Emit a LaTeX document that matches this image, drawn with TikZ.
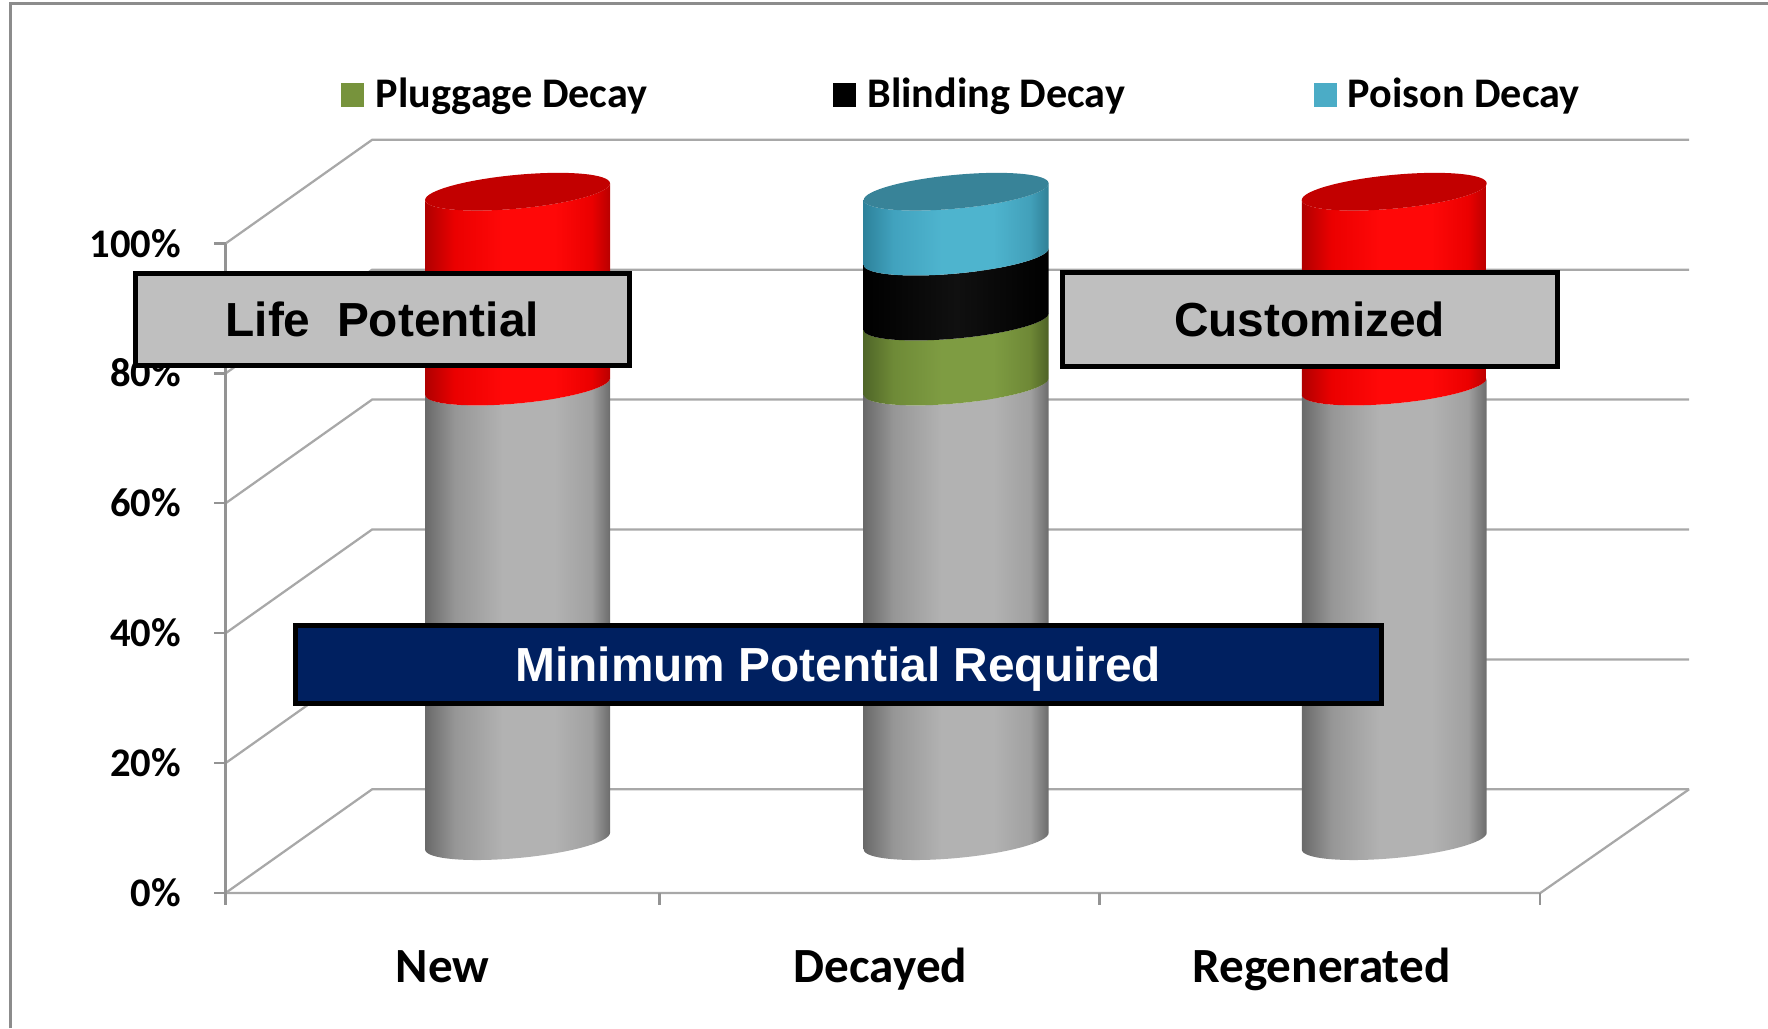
\documentclass[tikz,border=0pt]{standalone}
\usepackage{fontspec}
\setmainfont{Carlito}
\newfontfamily\arialfont{Liberation Sans}
\newfontfamily\califont{Carlito}
\definecolor{gridc}{RGB}{168,168,168}
\definecolor{framec}{RGB}{140,140,140}
\definecolor{boxgray}{RGB}{191,191,191}
\definecolor{navy}{RGB}{0,32,96}
\definecolor{leggreen}{RGB}{119,147,60}
\definecolor{legcyan}{RGB}{75,172,198}
% gray
\definecolor{gA}{RGB}{105,105,105}
\definecolor{gB}{RGB}{150,150,150}
\definecolor{gC}{RGB}{178,178,178}
\definecolor{gD}{RGB}{160,160,160}
\definecolor{gE}{RGB}{108,108,108}
% red
\definecolor{rA}{RGB}{175,0,0}
\definecolor{rB}{RGB}{235,0,0}
\definecolor{rC}{RGB}{255,8,8}
\definecolor{rD}{RGB}{235,0,0}
\definecolor{rE}{RGB}{185,0,0}
\definecolor{rTop}{RGB}{194,0,0}
% cyan
\definecolor{cA}{RGB}{45,130,155}
\definecolor{cB}{RGB}{65,162,190}
\definecolor{cC}{RGB}{78,180,206}
\definecolor{cD}{RGB}{66,160,186}
\definecolor{cE}{RGB}{48,128,150}
\definecolor{cTop}{RGB}{56,131,152}
% green
\definecolor{nA}{RGB}{80,102,40}
\definecolor{nB}{RGB}{110,138,55}
\definecolor{nC}{RGB}{126,156,66}
\definecolor{nD}{RGB}{110,136,54}
\definecolor{nE}{RGB}{78,98,38}
% black
\definecolor{kA}{RGB}{0,0,0}
\definecolor{kC}{RGB}{16,16,16}
\pgfdeclarehorizontalshading{shgray}{100bp}{color(0bp)=(gA); color(25bp)=(gA); color(33bp)=(gB); color(46bp)=(gC); color(60bp)=(gC); color(70bp)=(gD); color(75bp)=(gE); color(100bp)=(gE)}
\pgfdeclarehorizontalshading{shred}{100bp}{color(0bp)=(rA); color(25bp)=(rA); color(33bp)=(rB); color(46bp)=(rC); color(60bp)=(rC); color(70bp)=(rD); color(75bp)=(rE); color(100bp)=(rE)}
\pgfdeclarehorizontalshading{shcyan}{100bp}{color(0bp)=(cA); color(25bp)=(cA); color(33bp)=(cB); color(46bp)=(cC); color(60bp)=(cC); color(70bp)=(cD); color(75bp)=(cE); color(100bp)=(cE)}
\pgfdeclarehorizontalshading{shgreen}{100bp}{color(0bp)=(nA); color(25bp)=(nA); color(33bp)=(nB); color(46bp)=(nC); color(60bp)=(nC); color(70bp)=(nD); color(75bp)=(nE); color(100bp)=(nE)}
\pgfdeclarehorizontalshading{shblack}{100bp}{color(0bp)=(kA); color(25bp)=(kA); color(50bp)=(kC); color(75bp)=(kA); color(100bp)=(kA)}
% cylinder segment: center x, from %, to %, shading
\newcommand{\cylseg}[4]{%
  \begin{scope}[shift={(#1,-746)}, yslant=0.09]
    \shade[shading=#4] (-82,{5.76*#2}) arc[start angle=180,end angle=360,x radius=82,y radius=15]
      -- (82,{5.76*#3}) arc[start angle=0,end angle=-180,x radius=82,y radius=15] -- cycle;
  \end{scope}}
\newcommand{\cyltop}[3]{%
  \begin{scope}[shift={(#1,-746)}, yslant=0.09]
    \fill[#3] (0,{5.76*#2}) ellipse[x radius=82,y radius=15];
  \end{scope}}
\tikzset{
  gridline/.style={draw=gridc, line width=1pt},
  tickline/.style={draw=gray!85, line width=1pt},
  axislbl/.style={font=\califont\bfseries\fontsize{18pt}{21pt}\selectfont, anchor=base east, inner sep=0pt},
  catlbl/.style={font=\califont\bfseries\fontsize{21.8pt}{25pt}\selectfont, anchor=base, inner sep=0pt},
  leglbl/.style={font=\califont\bfseries\fontsize{18.7pt}{22pt}\selectfont, anchor=base west, inner sep=0pt},
  graybox/.style={draw=black, line width=2.2pt, fill=boxgray, inner sep=0pt,
     font=\arialfont\bfseries\fontsize{21.2pt}{25pt}\selectfont, text height=15.2pt, text depth=0pt},
  navybox/.style={draw=black, line width=2.2pt, fill=navy, text=white, inner sep=0pt,
     font=\arialfont\bfseries\fontsize{21.2pt}{25pt}\selectfont, text height=15.2pt, text depth=0pt},
}
\begin{document}
\begin{tikzpicture}[x=0.5pt, y=0.5pt]
\useasboundingbox (0,0) rectangle (1568,-912);
% outer frame
\draw[framec, line width=1.2pt] (9,-912) -- (9,-3) -- (1568,-3);
% grid: back wall lines and left wall diagonals
\foreach \L in {0,20,40,60,80,100} {
  \pgfmathsetmacro{\yf}{-792+5.76*\L}
  \pgfmathsetmacro{\yb}{\yf+92}
  \draw[gridline] (200,\yf) -- (330,\yb) -- (1498,\yb);
  \draw[tickline] (190,\yf) -- (200,\yf);
}
% floor right edge and front edge
\draw[gridline] (1498,-700) -- (1366,-792) -- (200,-792);
% vertical axis
\draw[tickline] (200,-216) -- (200,-803);
\foreach \xx in {585,975,1366} \draw[tickline] (\xx,-792) -- (\xx,-803);
% cylinders
\cylseg{459}{0}{70}{shgray}
\cylseg{459}{70}{100}{shred}
\cyltop{459}{100}{rTop}
\cylseg{848}{0}{70}{shgray}
\cylseg{848}{70}{80}{shgreen}
\cylseg{848}{80}{90}{shblack}
\cylseg{848}{90}{100}{shcyan}
\cyltop{848}{100}{cTop}
\cylseg{1236.5}{0}{70}{shgray}
\cylseg{1236.5}{70}{100}{shred}
\cyltop{1236.5}{100}{rTop}
% axis labels
\node[axislbl] (l100) at (161,-228) {100\%};
\node[axislbl] (l80) at (161,-343.2) {80\%};
\node[axislbl] (l60) at (161,-458.4) {60\%};
\node[axislbl] (l40) at (161,-573.6) {40\%};
\node[axislbl] (l20) at (161,-688.8) {20\%};
\node[axislbl] (l0) at (161,-804) {0\%};
% category labels
\node[catlbl] (cNew) at (392.5,-871) {New};
\node[catlbl] (cDec) at (781,-871) {Decayed};
\node[catlbl] (cReg) at (1172,-871) {Regenerated};
% legend
\fill[leggreen] (302,-74) rectangle (323,-95);
\node[leglbl] (legP) at (333,-95.5) {Pluggage Decay};
\fill[black] (739,-74) rectangle (759,-95);
\node[leglbl] (legB) at (769,-95.5) {Blinding Decay};
\fill[legcyan] (1165,-74) rectangle (1186,-95);
\node[leglbl] (legS) at (1195,-95.5) {Poison Decay};
% boxes
\node[graybox, minimum width=219pt, minimum height=41pt] (life) at (339,-283.5) {Life\ \ Potential};
\node[graybox, minimum width=219.5pt, minimum height=41.5pt] (cust) at (1161.5,-283.5) {Customized};
\node[navybox, minimum width=481.5pt, minimum height=34.5pt] (minp) at (743.5,-589.5) {Minimum Potential Required};
\end{tikzpicture}
\end{document}
